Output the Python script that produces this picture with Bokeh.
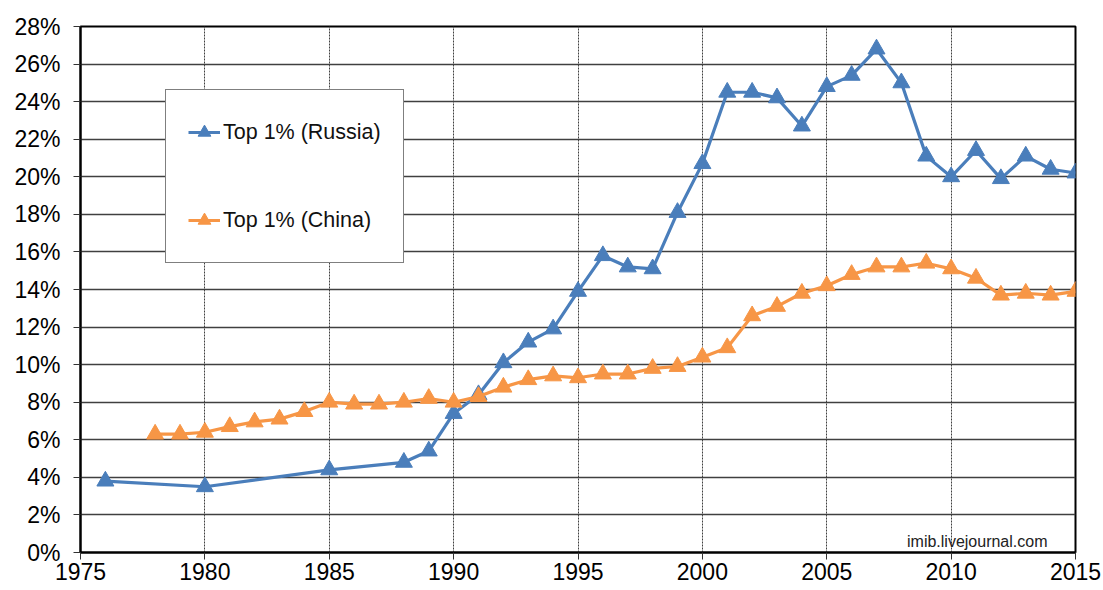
from bokeh.plotting import figure
from bokeh.models import Range1d, NumeralTickFormatter, FixedTicker, Legend, LegendItem, Label
from bokeh.embed import file_html
from bokeh.resources import INLINE

russia_years = [1976, 1980, 1985, 1988, 1989, 1990, 1991, 1992, 1993, 1994, 1995, 1996, 1997, 1998, 1999,
                2000, 2001, 2002, 2003, 2004, 2005, 2006, 2007, 2008, 2009, 2010, 2011, 2012, 2013, 2014, 2015]
russia_share = [3.8, 3.5, 4.4, 4.8, 5.4, 7.4, 8.4, 10.1, 11.2, 11.9, 13.9, 15.8, 15.2, 15.1, 18.1,
                20.7, 24.5, 24.5, 24.2, 22.7, 24.8, 25.4, 26.8, 25.0, 21.1, 20.0, 21.4, 19.9, 21.1, 20.4, 20.2]

china_years = list(range(1978, 2016))
china_share = [6.3, 6.3, 6.4, 6.7, 6.95, 7.1, 7.5, 8.0, 7.9, 7.9, 8.0, 8.2, 8.0, 8.3, 8.8, 9.2, 9.4, 9.3,
               9.5, 9.5, 9.8, 9.9, 10.4, 10.9, 12.6, 13.1, 13.8, 14.2, 14.8, 15.2, 15.2, 15.4, 15.1, 14.6,
               13.7, 13.8, 13.7, 13.9]

x_ticks = [1975, 1980, 1985, 1990, 1995, 2000, 2005, 2010, 2015]
y_ticks = [i / 100 for i in range(0, 29, 2)]

BLUE = "#4A7EBB"
ORANGE = "#F79646"
FONT = "Liberation Sans"

p = figure(width=1103, height=590, output_backend="svg", toolbar_location=None,
           x_range=Range1d(1975, 2015), y_range=Range1d(0, 0.28),
           min_border_left=80, min_border_right=28, min_border_top=26, min_border_bottom=38)

p.outline_line_color = "black"
p.outline_line_width = 2

p.xaxis.ticker = FixedTicker(ticks=x_ticks)
p.yaxis.ticker = FixedTicker(ticks=y_ticks)
p.yaxis.formatter = NumeralTickFormatter(format="0%")
for ax in (p.xaxis, p.yaxis):
    ax.axis_line_color = "black"
    ax.axis_line_width = 2
    ax.major_tick_line_color = "#333333"
    ax.major_tick_out = 7
    ax.major_tick_in = 0
    ax.minor_tick_line_color = None
    ax.major_label_text_font = FONT
    ax.major_label_text_font_size = "23px"
    ax.major_label_text_color = "black"
p.xaxis.major_label_standoff = 3
p.yaxis.major_label_standoff = 13

p.ygrid.grid_line_color = "#404040"
p.ygrid.grid_line_width = 1.5
p.xgrid.grid_line_color = "#404040"
p.xgrid.grid_line_width = 1
p.xgrid.grid_line_dash = "2 1"

yr = [v / 100 for v in russia_share]
yc = [v / 100 for v in china_share]

lr = p.line(russia_years, yr, line_color=BLUE, line_width=3.2)
mr = p.scatter(russia_years, yr, marker="triangle", size=17, fill_color=BLUE, line_color=BLUE)
lc = p.line(china_years, yc, line_color=ORANGE, line_width=3.2)
mc = p.scatter(china_years, yc, marker="triangle", size=17, fill_color=ORANGE, line_color=ORANGE)

legend = Legend(items=[LegendItem(label="Top 1% (Russia)", renderers=[lr, mr]),
                       LegendItem(label="Top 1% (China)", renderers=[lc, mc])],
                location=(85, 289))
legend.border_line_color = "black"
legend.border_line_width = 1
legend.background_fill_color = "white"
legend.background_fill_alpha = 1
legend.padding = 22
legend.spacing = 48
legend.label_height = 40
legend.glyph_height = 40
legend.glyph_width = 32
legend.label_standoff = 3
legend.label_text_font = FONT
legend.label_text_font_size = "21.5px"
legend.label_text_color = "#111111"
p.add_layout(legend, "center")

wm = Label(x=2011.05, y=0.0015, text="imib.livejournal.com", text_font=FONT, text_font_size="16px",
           text_color="#222222", text_align="center", text_baseline="bottom")
p.add_layout(wm)

open("out.html", "w").write(file_html(p, INLINE))
